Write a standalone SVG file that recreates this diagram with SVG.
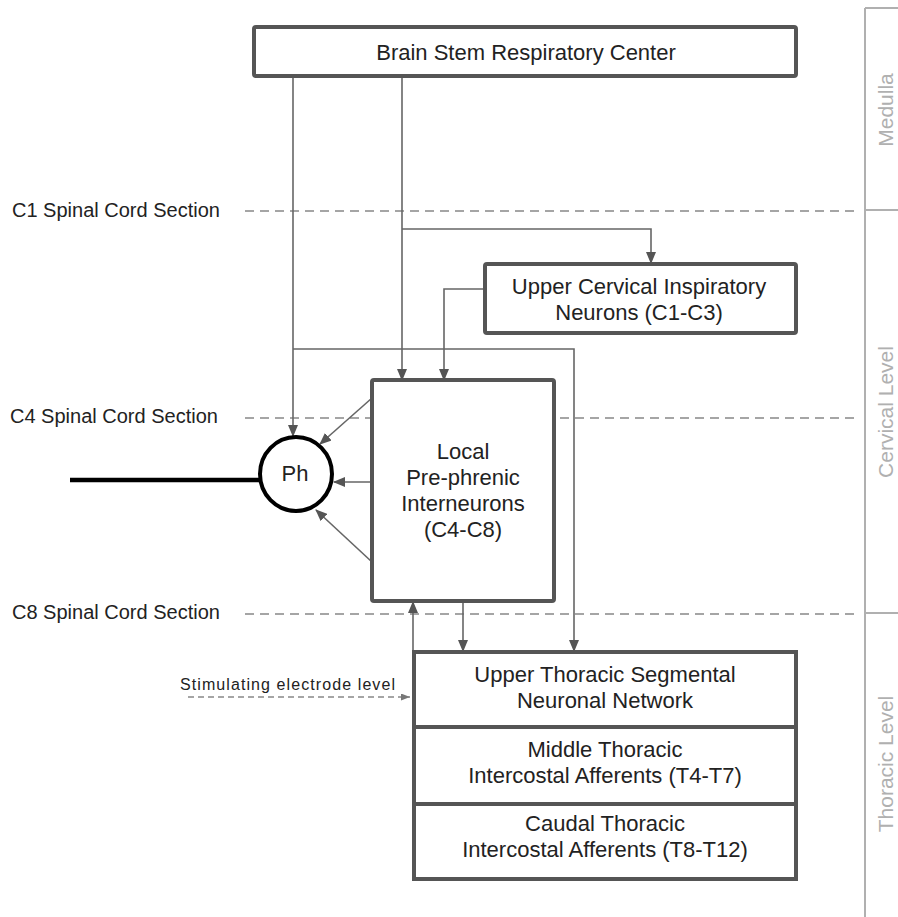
<svg xmlns="http://www.w3.org/2000/svg" width="898" height="917" viewBox="0 0 898 917">
<defs>
<marker id="arr" markerWidth="12" markerHeight="10" refX="11" refY="5" orient="auto" markerUnits="userSpaceOnUse">
<path d="M0,0 L12,5 L0,10 Z" fill="#555"/>
</marker>
<marker id="arrs" markerWidth="9" markerHeight="7" refX="9" refY="3.5" orient="auto" markerUnits="userSpaceOnUse">
<path d="M0,0 L9,3.5 L0,7 Z" fill="#777"/>
</marker>
</defs>
<style>
.box{fill:#fff;stroke:#555;stroke-width:4}
.lbl{font-family:"Liberation Sans",Arial,sans-serif;font-size:22px;fill:#222;text-anchor:middle}
.sec{font-family:"Liberation Sans",Arial,sans-serif;font-size:20px;fill:#222}
.side{font-family:"Liberation Sans",Arial,sans-serif;font-size:21px;fill:#b0b0b0;text-anchor:middle}
.con{fill:none;stroke:#666;stroke-width:1.6}
.dash{fill:none;stroke:#888;stroke-width:1.6;stroke-dasharray:9,6}
.bar{fill:none;stroke:#b0b0b0;stroke-width:2}
</style>
<rect width="898" height="917" fill="#fff"/>

<g id="levels">
<path class="bar" d="M865,8 V917 M865,8 H898 M865,210 H898 M865,613 H898"/>
<text class="side" transform="translate(893,110) rotate(-90)">Medulla</text>
<text class="side" transform="translate(893,412) rotate(-90)">Cervical Level</text>
<text class="side" transform="translate(893,764) rotate(-90)">Thoracic Level</text>
</g>

<g id="sections">
<path class="dash" d="M245,211 H857"/>
<path class="dash" d="M245,418 H857"/>
<path class="dash" d="M245,614 H857"/>
<text class="sec" x="12" y="217">C1 Spinal Cord Section</text>
<text class="sec" x="10" y="423">C4 Spinal Cord Section</text>
<text class="sec" x="12" y="619">C8 Spinal Cord Section</text>
</g>

<g id="connectors">
<path class="con" d="M293,76 V436" marker-end="url(#arr)"/>
<path class="con" d="M402,76 V380" marker-end="url(#arr)"/>
<path class="con" d="M402,229 H651 V263" marker-end="url(#arr)"/>
<path class="con" d="M485,289 H444 V380" marker-end="url(#arr)"/>
<path class="con" d="M293,349 H574 V651" marker-end="url(#arr)"/>
<path class="con" d="M372,398 L320,444" marker-end="url(#arr)"/>
<path class="con" d="M372,482 H334" marker-end="url(#arr)"/>
<path class="con" d="M372,562 L316,510" marker-end="url(#arr)"/>
<path class="con" d="M463,601 V651" marker-end="url(#arr)"/>
<path class="con" d="M413,652 V602" marker-end="url(#arr)"/>
<path class="dash" style="stroke-dasharray:6,4;stroke-width:1.4" d="M188,697 H410" marker-end="url(#arrs)"/>
<path d="M70,480 H259" fill="none" stroke="#000" stroke-width="4.5"/>
</g>

<g id="brainstem">
<rect class="box" x="254" y="27" width="542" height="49" rx="2"/>
<text class="lbl" x="526" y="60">Brain Stem Respiratory Center</text>
</g>

<g id="uppercervical">
<rect class="box" x="485" y="264" width="311" height="69" rx="2"/>
<text class="lbl" x="639" y="294">Upper Cervical Inspiratory</text>
<text class="lbl" x="639" y="320">Neurons (C1-C3)</text>
</g>

<g id="local">
<rect class="box" x="372" y="380" width="182" height="221" rx="2"/>
<text class="lbl" x="463" y="459">Local</text>
<text class="lbl" x="463" y="485">Pre-phrenic</text>
<text class="lbl" x="463" y="511">Interneurons</text>
<text class="lbl" x="463" y="537">(C4-C8)</text>
</g>

<g id="ph">
<ellipse cx="296" cy="474" rx="36" ry="37" fill="#fff" stroke="#000" stroke-width="4"/>
<text class="lbl" x="295" y="481" style="fill:#222">Ph</text>
</g>

<g id="stimulating">
<text x="180" y="690" style="font-family:'Liberation Sans',Arial,sans-serif;font-size:16px;fill:#222" textLength="215">Stimulating electrode level</text>
</g>

<g id="upperthoracic">
<rect class="box" x="414" y="652" width="382" height="75"/>
<text class="lbl" x="605" y="682">Upper Thoracic Segmental</text>
<text class="lbl" x="605" y="708">Neuronal Network</text>
</g>

<g id="middlethoracic">
<rect class="box" x="414" y="727" width="382" height="77"/>
<text class="lbl" x="605" y="757">Middle Thoracic</text>
<text class="lbl" x="605" y="783">Intercostal Afferents (T4-T7)</text>
</g>

<g id="caudalthoracic">
<rect class="box" x="414" y="804" width="382" height="75"/>
<text class="lbl" x="605" y="831">Caudal Thoracic</text>
<text class="lbl" x="605" y="857">Intercostal Afferents (T8-T12)</text>
</g>
</svg>
